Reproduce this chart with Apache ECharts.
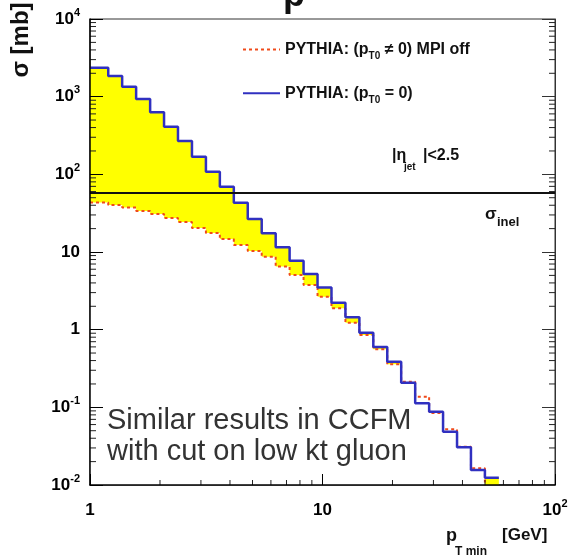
<!DOCTYPE html>
<html>
<head>
<meta charset="utf-8">
<script src="https://cdn.jsdelivr.net/npm/echarts@6/dist/echarts.min.js"></script>
<style>
  html, body { margin: 0; padding: 0; background: #fff; }
  #main { width: 573px; height: 560px; }
</style>
</head>
<body>
<div id="main"></div>
<script>
// bin edges in pT_min [GeV] (log bins)
var binEdges = [1, 1.198, 1.375, 1.579, 1.814, 2.082, 2.39, 2.745, 3.152, 3.618, 4.155,
  4.77, 5.477, 6.29, 7.22, 8.29, 9.52, 10.93, 12.55, 14.41, 16.54,
  18.99, 21.8, 25.04, 28.75, 33.0, 37.9, 43.5, 49.95, 57.35];
// sigma [mb] per bin, PYTHIA (pT0 = 0), blue
var sigmaPt0Zero = [2360, 1845, 1343, 933, 630, 411, 269, 169, 108, 69,
  43, 26.6, 17.4, 11.5, 7.7, 5.2, 3.5, 2.22, 1.44, 0.91,
  0.60, 0.386, 0.207, 0.113, 0.088, 0.0486, 0.0306, 0.0156, 0.0124];
// sigma [mb] per bin, PYTHIA (pT0 != 0) MPI off, red dotted
var sigmaMpiOff = [43.4, 40.3, 37.4, 33.7, 30.8, 27.4, 24.3, 20.4, 17.6, 14.7,
  12.3, 10.3, 8.7, 6.5, 5.06, 3.76, 2.66, 1.88, 1.23, 0.855,
  0.56, 0.358, 0.214, 0.137, 0.0845, 0.0521, 0.0311, 0.0164, 0.005];
var sigmaInel = 58;

// axis decoration
var minorMult = [2, 3, 4, 5, 6, 7, 8, 9];
var xDecades = [1, 10];
var yDecades = [0.01, 0.1, 1, 10, 100, 1000];

var FONT = "'Liberation Sans', Arial, sans-serif";

function steps(values) {
  var pts = values.map(function (v, i) { return [binEdges[i], v]; });
  pts.push([binEdges[values.length], values[values.length - 1]]);
  return pts;
}

// minor tick data: [x, y, kind] kind 0 = bottom, 1 = left, 2 = right
var tickData = [];
xDecades.forEach(function (d) {
  minorMult.forEach(function (m) { tickData.push([d * m, 0.01, 0]); });
});
yDecades.forEach(function (d) {
  minorMult.forEach(function (m) {
    tickData.push([1, d * m, 1]);
    tickData.push([100, d * m, 2]);
  });
});

function powLabel(v) {
  var e = Math.round(Math.log10(v));
  if (e === 0) return '{b|1}';
  if (e === 1) return '{b|10}';
  return '{b|10}{sup|' + e + '}';
}

var axisRich = {
  b: { fontFamily: FONT, fontWeight: 'bold', fontSize: 17, lineHeight: 24, color: '#000' },
  sup: { fontFamily: FONT, fontWeight: 'bold', fontSize: 11, lineHeight: 12, verticalAlign: 'top', color: '#000' }
};

var legendRich = {
  b: { fontFamily: FONT, fontWeight: 'bold', fontSize: 16, lineHeight: 24, color: '#111' },
  sub: { fontFamily: FONT, fontWeight: 'bold', fontSize: 10, lineHeight: 10, verticalAlign: 'bottom', color: '#111' }
};

var myChart = echarts.init(document.getElementById('main'));

var option = {
  animation: false,
  backgroundColor: '#fff',
  grid: { left: 90, right: 18, top: 19, bottom: 75, show: true, borderColor: '#333', borderWidth: 1 },
  legend: {
    orient: 'vertical',
    left: 237,
    top: 35,
    itemWidth: 37,
    itemHeight: 24,
    itemGap: 22,
    itemStyle: { opacity: 0, borderWidth: 0 },
    data: ['mpiOff', 'pt0Zero'],
    formatter: function (name) {
      return name === 'mpiOff'
        ? '{b|PYTHIA: (p}{sub|T0}{b| \u2260 0) MPI off}'
        : '{b|PYTHIA: (p}{sub|T0}{b| = 0)}';
    },
    textStyle: { rich: legendRich }
  },
  xAxis: {
    type: 'log',
    min: 1,
    max: 100,
    z: 10,
    axisLine: { lineStyle: { color: '#000', width: 1.5 } },
    axisTick: { inside: true, length: 11, lineStyle: { color: '#000', width: 1 } },
    splitLine: { show: false },
    axisLabel: { margin: 13, formatter: powLabel, rich: axisRich }
  },
  yAxis: [{
    type: 'log',
    min: 0.01,
    max: 10000,
    z: 10,
    axisLine: { lineStyle: { color: '#000', width: 1.5 } },
    axisTick: { inside: true, length: 13, lineStyle: { color: '#000', width: 1 } },
    splitLine: { show: false },
    axisLabel: { margin: 10, formatter: powLabel, rich: axisRich }
  }, {
    type: 'log',
    position: 'right',
    min: 0.01,
    max: 10000,
    z: 10,
    axisLine: { show: true, lineStyle: { color: '#333', width: 1 } },
    axisTick: { inside: true, length: 13, lineStyle: { color: '#333', width: 1 } },
    splitLine: { show: false },
    axisLabel: { show: false }
  }],
  series: [{
    name: 'fillYellow',
    type: 'line',
    step: 'end',
    data: steps(sigmaPt0Zero),
    symbol: 'none',
    silent: true,
    lineStyle: { width: 0 },
    areaStyle: { color: '#ffff00', opacity: 1, origin: 'start' },
    z: 1
  }, {
    name: 'fillWhite',
    type: 'line',
    step: 'end',
    data: steps(sigmaMpiOff),
    symbol: 'none',
    silent: true,
    lineStyle: { width: 0 },
    areaStyle: { color: '#ffffff', opacity: 1, origin: 'start' },
    z: 2
  }, {
    name: 'mpiOff',
    type: 'line',
    step: 'end',
    data: steps(sigmaMpiOff),
    symbol: 'none',
    color: '#f04a1a',
    lineStyle: { color: '#f04a1a', width: 2, type: [3, 3] },
    z: 3
  }, {
    name: 'pt0Zero',
    type: 'line',
    step: 'end',
    data: steps(sigmaPt0Zero),
    symbol: 'none',
    color: '#3030c0',
    lineStyle: { color: '#3030c0', width: 2.5 },
    z: 4,
    markLine: {
      silent: true,
      symbol: 'none',
      label: { show: false },
      lineStyle: { color: '#111', width: 2, type: 'solid' },
      data: [{ yAxis: sigmaInel }]
    }
  }, {
    name: 'minorTicks',
    type: 'custom',
    silent: true,
    clip: false,
    z: 10,
    data: tickData,
    encode: { x: 0, y: 1 },
    renderItem: function (params, api) {
      var kind = api.value(2);
      var p = api.coord([api.value(0), api.value(1)]);
      var q;
      if (kind === 0) q = [p[0], p[1] - 5];
      else if (kind === 1) q = [p[0] + 6, p[1]];
      else q = [p[0] - 6, p[1]];
      return {
        type: 'line',
        shape: { x1: p[0], y1: p[1], x2: q[0], y2: q[1] },
        style: { stroke: '#222', lineWidth: 1 }
      };
    }
  }],
  graphic: [
    { type: 'text', z: 100, left: 283, top: -22, style: { text: 'p', font: 'bold 36px ' + FONT, fill: '#111' } },
    { type: 'text', z: 100, x: 21, y: 40, rotation: Math.PI / 2,
      style: { text: '\u03c3 [mb]', font: 'bold 24px ' + FONT, fill: '#111', align: 'center', verticalAlign: 'middle' } },
    { type: 'text', z: 100, x: 392, y: 148,
      style: { text: '|\u03b7', font: 'bold 16px ' + FONT, fill: '#111' } },
    { type: 'text', z: 100, x: 404, y: 162,
      style: { text: 'jet', font: 'bold 10px ' + FONT, fill: '#111' } },
    { type: 'text', z: 100, x: 423, y: 148,
      style: { text: '|<2.5', font: 'bold 16px ' + FONT, fill: '#111' } },
    { type: 'text', z: 100, x: 485, y: 206,
      style: { text: '\u03c3', font: 'bold 17px ' + FONT, fill: '#111' } },
    { type: 'text', z: 100, x: 497, y: 216,
      style: { text: 'inel', font: 'bold 13px ' + FONT, fill: '#111' } },
    { type: 'text', z: 100, x: 107, y: 405,
      style: { text: 'Similar results in CCFM\nwith cut on low kt gluon', font: '29px ' + FONT, lineHeight: 31, fill: '#333' } },
    { type: 'text', z: 100, x: 446, y: 527,
      style: { text: 'p', font: 'bold 18px ' + FONT, fill: '#111' } },
    { type: 'text', z: 100, x: 455, y: 546,
      style: { text: 'T min', font: 'bold 12px ' + FONT, fill: '#111' } },
    { type: 'text', z: 100, x: 502, y: 527,
      style: { text: '[GeV]', font: 'bold 17px ' + FONT, fill: '#111' } }
  ]
};

myChart.setOption(option);
window.addEventListener('resize', myChart.resize, false);
</script>
</body>
</html>
